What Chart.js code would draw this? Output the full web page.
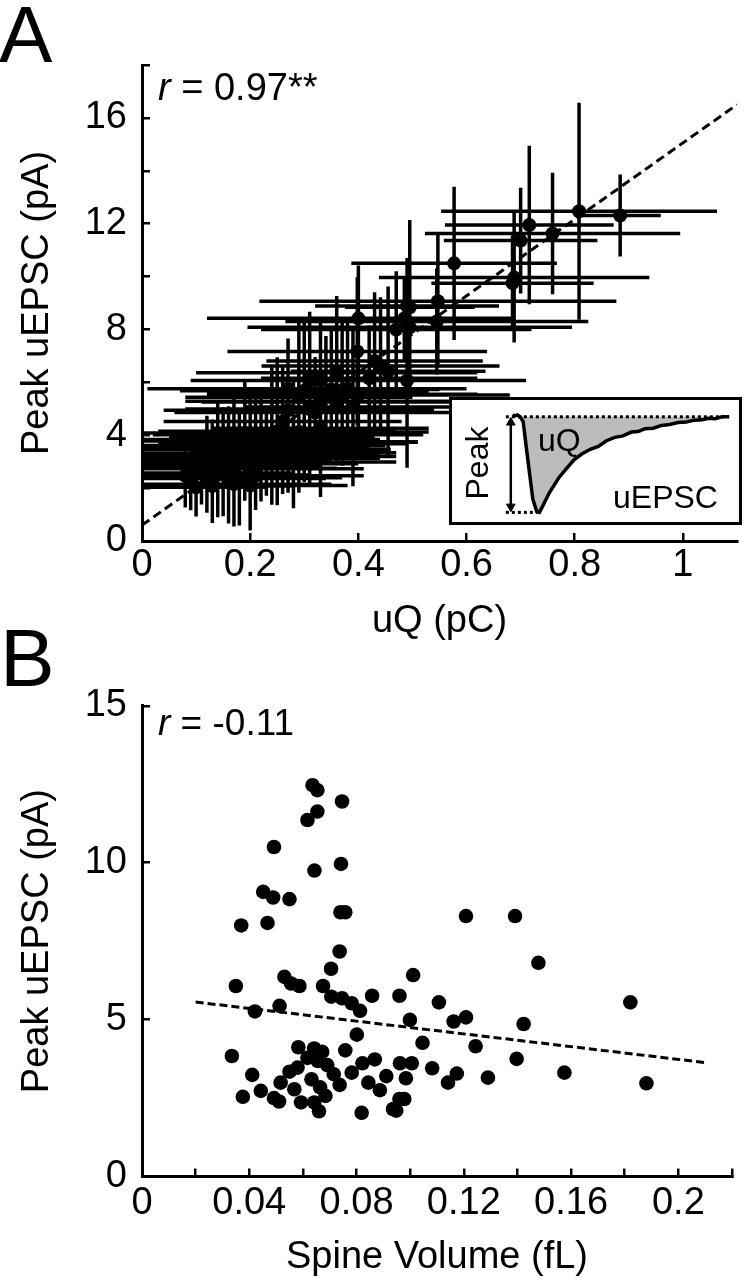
<!DOCTYPE html>
<html>
<head>
<meta charset="utf-8">
<script src="https://cdn.jsdelivr.net/npm/chart.js@4/dist/chart.umd.min.js"></script>
<style>
  html, body { margin: 0; padding: 0; background: #fff; }
  body { width: 744px; height: 1280px; position: relative; overflow: hidden;
         font-family: 'Liberation Sans', Arial, sans-serif; color: #000; }
  .abs { position: absolute; line-height: 1; white-space: nowrap; }
  canvas { position: absolute; display: block; }
  #insetBox { position: absolute; left: 449px; top: 397px; width: 293px; height: 128px;
              box-sizing: border-box; border: 3px solid #000; background: #fff; }
  #insetBox canvas { left: 0; top: 0; }
</style>
</head>
<body>
<canvas id="chartA" width="744" height="660" style="left:0;top:0;width:744px;height:660px"></canvas>
<canvas id="chartB" width="744" height="620" style="left:0;top:660px;width:744px;height:620px"></canvas>
<div id="insetBox"><canvas id="inset" width="287" height="122" style="width:287px;height:122px"></canvas></div>

<div class="abs" style="left:-1px;top:-5px;font-size:80px;">A</div>
<div class="abs" style="left:0px;top:617px;font-size:82px;">B</div>
<div class="abs" style="left:158px;top:68px;font-size:38px;"><i>r</i> = 0.97**</div>
<div class="abs" style="left:158px;top:704px;font-size:37px;"><i>r</i> = -0.11</div>
<div class="abs" style="left:477px;top:463px;font-size:32px;transform:translate(-50%,-50%) rotate(-90deg);">Peak</div>
<div class="abs" style="left:538px;top:424px;font-size:32px;">uQ</div>
<div class="abs" style="left:613px;top:481px;font-size:32px;">uEPSC</div>

<script>
// ---------------- DATA ----------------
// Peak uEPSC (pA) of each synapse (shared by panels A and B)
const peak = [12.47,12.31,11.95,11.63,11.36,10.5,9.75,9.96,9.07,8.89,
              8.84,8.42,8.42,8.0,8.08,7.17,6.62,6.42,6.07,6.36,
              6.15,6.07,6.07,5.73,5.68,5.52,5.28,5.76,5.76,5.44,
              5.26,4.99,4.52,4.26,3.84,4.12,4.08,3.97,4.02,3.78,
              3.68,3.55,3.26,3.47,3.34,3.61,3.73,3.61,3.61,3.31,
              3.24,3.13,3.10,2.92,2.99,3.2,2.75,2.99,2.78,2.84,
              2.73,2.54,2.5,2.39,2.36,2.57,2.36,2.08,2.03,2.15,
              2.47,2.47,8.3,8.3,6.81,5.55,5.55,4.94,5.07,4.86,
              4.15,3.75,3.45,3.28,2.99,3.15,3.31,2.97,2.1];
// Panel A: uQ (pC) and error bar half-widths
const uQ = [0.808,0.884,0.716,0.759,0.700,0.577,0.685,0.688,0.547,0.49,
            0.495,0.485,0.40,0.47,0.495,0.398,0.441,0.455,0.33,0.36,
            0.42,0.31,0.49,0.35,0.30,0.40,0.33,0.38,0.27,0.29,
            0.36,0.31,0.26,0.33,0.22,0.29,0.19,0.24,0.27,0.17,
            0.26,0.20,0.15,0.23,0.28,0.14,0.30,0.21,0.25,0.18,
            0.12,0.21,0.16,0.19,0.13,0.24,0.17,0.22,0.11,0.15,
            0.20,0.10,0.14,0.18,0.09,0.12,0.16,0.13,0.10,0.17,
            0.21,0.08,0.49,0.545,0.43,0.37,0.34,0.27,0.39,0.32,
            0.25,0.28,0.19,0.20,0.25,0.14,0.23,0.18,0.20];
const uQErr = [0.255,0.075,0.156,0.236,0.142,0.19,0.15,0.25,0.33,0.17,
               0.12,0.2,0.28,0.25,0.3,0.24,0.22,0.18,0.24,0.26,
               0.2,0.21,0.22,0.2,0.23,0.28,0.25,0.22,0.26,0.21,
               0.25,0.23,0.22,0.2,0.22,0.24,0.23,0.19,0.25,0.2,
               0.23,0.22,0.18,0.23,0.19,0.16,0.21,0.24,0.2,0.2,
               0.16,0.23,0.19,0.21,0.16,0.23,0.19,0.22,0.15,0.18,
               0.21,0.13,0.17,0.19,0.12,0.16,0.18,0.15,0.13,0.18,
               0.2,0.11,0.2,0.28,0.2,0.25,0.21,0.23,0.2,0.26,
               0.22,0.23,0.21,0.19,0.22,0.17,0.21,0.2,0.18];
const peakErr = [4.1,1.55,3.0,2.3,2.0,2.9,1.8,2.45,2.5,1.3,
                 3.3,1.6,2.0,2.2,1.5,2.8,2.6,3.2,2.2,2.9,
                 2.0,2.6,3.3,2.3,2.7,2.2,2.8,2.5,1.9,3.0,
                 2.4,2.8,2.1,2.6,1.8,2.3,2.0,2.6,2.2,1.9,
                 1.9,1.5,1.8,1.4,2.1,1.7,1.5,2.0,1.2,1.6,
                 1.5,1.7,2.0,1.4,1.6,1.3,1.8,1.5,1.4,1.9,
                 1.5,1.3,1.6,1.8,1.2,1.5,1.7,1.4,1.1,1.6,
                 1.3,1.2,2.4,2.0,2.6,2.7,2.2,2.4,3.0,2.1,
                 2.8,2.3,1.3,2.2,1.5,1.8,1.6,2.0,1.7];
// Panel B: spine volume (fL)
const spineVol = [0.0636,0.0654,0.0746,0.0654,0.0617,0.0492,0.0643,0.0742,0.0452,0.0489,
                  0.055,0.074,0.0758,0.037,0.0468,0.0737,0.0705,0.1011,0.035,0.0531,
                  0.0556,0.0587,0.0675,0.0706,0.0746,0.0782,0.0813,0.0858,0.096,0.0513,
                  0.0421,0.0999,0.0801,0.1046,0.0335,0.0583,0.0642,0.0672,0.0758,0.0617,
                  0.0656,0.0691,0.0715,0.058,0.055,0.0822,0.0868,0.0962,0.1006,0.0782,
                  0.0411,0.0984,0.0632,0.0737,0.0844,0.0911,0.0887,0.0517,0.0568,0.0664,
                  0.0443,0.0376,0.0492,0.0511,0.0593,0.0684,0.0642,0.066,0.0819,0.0936,
                  0.096,0.0978,0.1208,0.1391,0.1478,0.1821,0.1107,0.1162,0.1208,0.1423,
                  0.1244,0.1397,0.1082,0.1174,0.1141,0.129,0.1575,0.1881,0.0948];
// Regression lines (x, y endpoints)
const fitA = { x: [0, 1.1], y: [0.6, 16.5] };
const fitB = { x: [0.02, 0.211], y: [5.56, 3.62] };
// Axis settings
const axisA = { xMax: 1.1, xStep: 0.2, yMax: 18, yStep: 2, yLabelEvery: 4 };
const axisB = { xMax: 0.22, xStep: 0.02, yMax: 15, yStep: 5 };
// Inset uEPSC trace (time, normalised current)
const insetTime = [19.8,20.6,21.6,22.6,23.7,24.7,26.1,27.2,28.6,29.6,30.7,33.1,36.6,39.5,42.2,45.0,
                   48.1,51.0,54.0,57.0,60.0,63.0,65.5,68.0,71.0,74.0,77.0,80.0,83.0,86.0,88.9,91.0,93.5,96.0,98.6];
const insetCurrent = [0.02,0.01,0.02,0.0,-0.05,-0.29,-0.61,-0.86,-0.99,-1.0,-0.94,-0.80,-0.64,-0.54,-0.45,-0.39,
                      -0.34,-0.31,-0.25,-0.215,-0.2,-0.16,-0.155,-0.125,-0.12,-0.09,-0.08,-0.06,-0.055,-0.035,-0.032,-0.015,-0.02,0.0,0.0];
const insetBaseline = { x: [17.4, 98.6], y: 0 };
const insetPeakLine = { x: [17.4, 28.9], y: -1 };
const insetArrow = { x: 19.2, y: [-0.06, -0.94] };

// ---------------- CHARTS ----------------
Chart.defaults.font.family = "'Liberation Sans', Arial, sans-serif";
Chart.defaults.color = '#000';
const FS = 38;

function axisCommon(min, max, step, cb, tickPad, titleText, titlePad, fitFn) {
  return {
    type: 'linear', min, max,
    border: { color: '#000', width: 3 },
    grid: { drawOnChartArea: false, drawTicks: true, tickLength: -8, color: '#000', lineWidth: 2.5 },
    ticks: { stepSize: step, includeBounds: false, color: '#000', font: { size: FS }, padding: tickPad,
             callback: cb, autoSkip: false, maxRotation: 0 },
    title: { display: true, text: titleText, color: '#000', font: { size: FS }, padding: titlePad },
    afterFit: fitFn
  };
}

const hBars = [], vBars = [], ptsA = [];
peak.forEach((p, i) => {
  hBars.push({ x: uQ[i] - uQErr[i], y: p }, { x: uQ[i] + uQErr[i], y: p }, { x: uQ[i], y: null });
  vBars.push({ x: uQ[i], y: p - peakErr[i] }, { x: uQ[i], y: p + peakErr[i] }, { x: uQ[i], y: null });
  ptsA.push({ x: uQ[i], y: p });
});
const ptsB = peak.map((p, i) => ({ x: spineVol[i], y: p }));

const lineDs = (data, extra) => Object.assign({
  data, showLine: true, spanGaps: false, borderColor: '#000', borderWidth: 3,
  pointRadius: 0, fill: false, tension: 0
}, extra || {});

new Chart(document.getElementById('chartA'), {
  type: 'scatter',
  data: { datasets: [
    { data: ptsA, pointRadius: 7, pointBackgroundColor: '#000', pointBorderWidth: 0, showLine: false },
    lineDs(fitA.x.map((x, i) => ({ x, y: fitA.y[i] })), { borderDash: [9, 5] }),
    lineDs(hBars, { borderWidth: 3.5 }),
    lineDs(vBars, { borderWidth: 3.5 })
  ] },
  options: {
    responsive: false, animation: false, devicePixelRatio: 1,
    layout: { padding: { left: 0, right: 2, top: 65, bottom: 0 } },
    plugins: { legend: { display: false }, tooltip: { enabled: false } },
    scales: {
      x: axisCommon(0, axisA.xMax, axisA.xStep, v => String(+v.toFixed(1)), 10, 'uQ (pC)',
                    { top: 0, bottom: 16 }, s => { s.height = 119; }),
      y: axisCommon(0, axisA.yMax, axisA.yStep,
                    v => (Math.round(v) % axisA.yLabelEvery === 0 ? String(Math.round(v)) : ''), 23,
                    'Peak uEPSC (pA)', { top: 15, bottom: 0 }, s => { s.width = 142; })
    }
  }
});

new Chart(document.getElementById('chartB'), {
  type: 'scatter',
  data: { datasets: [
    { data: ptsB, pointRadius: 7.3, pointBackgroundColor: '#000', pointBorderWidth: 0, showLine: false },
    lineDs(fitB.x.map((x, i) => ({ x, y: fitB.y[i] })), { borderDash: [8, 4] })
  ] },
  options: {
    responsive: false, animation: false, devicePixelRatio: 1,
    layout: { padding: { left: 0, right: 2, top: 40, bottom: 0 } },
    plugins: { legend: { display: false }, tooltip: { enabled: false } },
    scales: {
      x: axisCommon(0, axisB.xMax, axisB.xStep,
                    v => (Math.round(v * 100) % 4 === 0 ? String(+v.toFixed(2)) : ''), 12,
                    'Spine Volume (fL)', { top: 0, bottom: 0 }, s => { s.height = 103.5; }),
      y: axisCommon(0, axisB.yMax, axisB.yStep, v => String(Math.round(v)), 23,
                    'Peak uEPSC (pA)', { top: 15, bottom: 0 }, s => { s.width = 142; })
    }
  }
});

new Chart(document.getElementById('inset'), {
  type: 'scatter',
  data: { datasets: [
    lineDs([{ x: insetArrow.x, y: insetArrow.y[0] }, { x: insetArrow.x, y: insetArrow.y[1] }],
           { borderWidth: 2.5, pointRadius: 5, pointStyle: 'triangle', pointRotation: [0, 180],
             pointBackgroundColor: '#000', pointBorderColor: '#000', pointBorderWidth: 1 }),
    lineDs(insetBaseline.x.map(x => ({ x, y: insetBaseline.y })), { borderDash: [3, 3], borderWidth: 3 }),
    lineDs(insetPeakLine.x.map(x => ({ x, y: insetPeakLine.y })), { borderDash: [3, 3], borderWidth: 3 }),
    lineDs(insetTime.map((t, i) => ({ x: t, y: insetCurrent[i] })),
           { borderWidth: 3.5, fill: 'origin', backgroundColor: '#bcbcbc' })
  ] },
  options: {
    responsive: false, animation: false, devicePixelRatio: 1,
    layout: { padding: 0 },
    plugins: { legend: { display: false }, tooltip: { enabled: false } },
    scales: {
      x: { type: 'linear', display: false, min: 0, max: 100 },
      y: { type: 'linear', display: false, min: -1.038, max: 0.113 }
    }
  }
});
</script>
</body>
</html>
